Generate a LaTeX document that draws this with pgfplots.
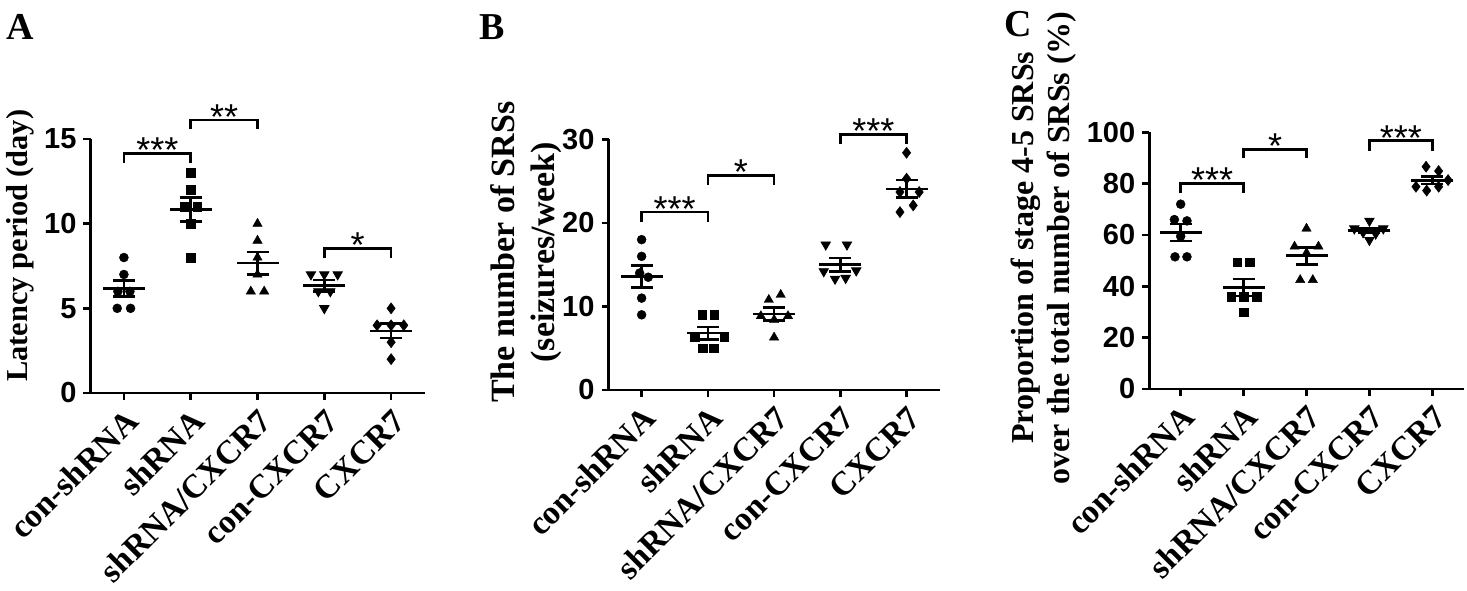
\documentclass[border=0pt]{standalone}
\usepackage{fontspec}
\setmainfont{Liberation Serif}
\newfontfamily\arialfont{Liberation Sans}
\usepackage{pgfplots}
\pgfplotsset{compat=1.18}
\pgfplotsset{
 prism/.style={
   scale only axis, clip=false, enlargelimits=false,
   axis x line=bottom, axis y line=left,
   axis line style={line width=1.3pt,-},
   xmin=-0.5, xmax=4.5, ymin=0,
   xtick={0,1,2,3,4},
   xticklabels={con-shRNA,shRNA,shRNA/CXCR7,con-CXCR7,CXCR7},
   tick align=outside,
   major tick length=3.5pt,
   every tick/.style={black, line width=1.3pt},
   xticklabel style={rotate=45, anchor=east, font=\bfseries\fontsize{16.7}{18}\selectfont, inner sep=1pt, xshift=-1.5pt, yshift=-8.5pt},
   yticklabel style={font=\arialfont\bfseries\fontsize{14.5}{16}\selectfont},
   /pgf/number format/assume math mode=true,
   ylabel style={font=\bfseries\fontsize{16}{18}\selectfont, align=center, anchor=center},
 },
 dots/.style={only marks, black, mark options={fill=black, draw=black, line width=0.2pt}},
 msem/.style={only marks, black, mark=-, mark size=10.5pt, mark options={line width=1.3pt},
   error bars/.cd, y dir=both, y explicit, error bar style={line width=1.3pt},
   error mark options={rotate=90, mark size=5.5pt, line width=1.3pt}},
 brk/.style={black, line width=1.3pt, line join=miter, mark=none},
}
\tikzset{stars/.style={font=\arialfont\fontsize{18}{18}\selectfont, anchor=base, yshift=-4.7pt, inner sep=0pt}}
\begin{document}
\begin{tikzpicture}
\useasboundingbox (0,0) rectangle (733.5pt,295pt);
\node[font=\bfseries\fontsize{19}{19}\selectfont] at (10pt,281.5pt) {A};
\node[font=\bfseries\fontsize{19}{19}\selectfont] at (246pt,281.5pt) {B};
\node[font=\bfseries\fontsize{19}{19}\selectfont] at (509pt,283pt) {C};

% Panel A
\begin{axis}[prism, at={(45.25pt,98.5pt)}, anchor=south west, width=167pt, height=127pt,
  ymax=15, ytick={0,5,10,15},
  ylabel={Latency period (day)},
  ylabel style={at={(axis description cs:-0.211,0.58)}, font=\bfseries\fontsize{15.2}{18}\selectfont}]
\addplot[dots, mark=*, mark size=2.25pt] coordinates {(0,8) (0,7) (-0.09,6) (0.09,6) (-0.1,5) (0.1,5)};
\addplot[dots, mark=square*, mark size=2.1pt] coordinates {(1,13) (1,12) (0.9,11) (1.1,11) (1,10) (1,8)};
\addplot[dots, mark=triangle*, mark size=2.7pt] coordinates {(2,10) (2,9) (2,8) (2,7) (1.9,6) (2.1,6)};
\addplot[dots, mark=triangle*, mark size=2.7pt, mark options={rotate=180}] coordinates {(2.8,7) (3,7) (3.2,7) (2.91,6) (3.09,6) (3,5)};
\addplot[dots, mark=diamond*, mark size=2.8pt] coordinates {(4,5) (3.79,4) (4,4) (4.19,4) (4,3) (4,2)};
\addplot[msem] coordinates {(0,6.167) +- (0,0.477) (1,10.833) +- (0,0.703) (2,7.667) +- (0,0.667) (3,6.333) +- (0,0.333) (4,3.667) +- (0,0.422)};
\addplot[brk] coordinates {(0,13.56) (0,14.15) (1,14.15) (1,13.56)};
\addplot[brk] coordinates {(1,15.57) (1,16.12) (2,16.12) (2,15.57)};
\addplot[brk] coordinates {(3,7.95) (3,8.55) (4,8.55) (4,7.95)};
\node[stars] at (axis cs:0.5,14.15) {***};
\node[stars] at (axis cs:1.5,16.12) {**};
\node[stars] at (axis cs:3.5,8.55) {*};
\end{axis}

% Panel B
\begin{axis}[prism, at={(304.25pt,100pt)}, anchor=south west, width=165.6pt, height=125.3pt,
  ymax=30, ytick={0,10,20,30},
  ylabel={The number of SRSs\\(seizures/week)},
  ylabel style={at={(axis description cs:-0.25,0.55)}, font=\bfseries\fontsize{17}{20}\selectfont}]
\addplot[dots, mark=*, mark size=2.25pt] coordinates {(0,18) (0,16) (-0.03,14) (0.1,13.5) (0,11) (0,9)};
\addplot[dots, mark=square*, mark size=2.1pt] coordinates {(0.91,9) (1.1,9) (0.8,6.4) (1.25,6.4) (0.92,5) (1.09,5)};
\addplot[dots, mark=triangle*, mark size=2.7pt] coordinates {(2.1,11.4) (1.92,10.8) (1.8,8.85) (2.21,8.85) (2,8.4) (2,6.3)};
\addplot[dots, mark=triangle*, mark size=2.7pt, mark options={rotate=180}] coordinates {(2.78,17.4) (3.1,17.4) (2.75,14.2) (3.24,14.3) (2.92,13.3) (3.08,13.4)};
\addplot[dots, mark=diamond*, mark size=2.8pt] coordinates {(4,28.4) (4,25.3) (3.9,23.7) (4.19,23.7) (4.1,22.1) (3.9,21.3)};
\addplot[msem] coordinates {(0,13.58) +- (0,1.33) (1,6.8) +- (0,0.72) (2,9.1) +- (0,0.745) (3,15.0) +- (0,0.8) (4,24.08) +- (0,1.05)};
\addplot[brk] coordinates {(0,20.1) (0,21.3) (1,21.3) (1,20.1)};
\addplot[brk] coordinates {(1,24.5) (1,25.7) (2,25.7) (2,24.5)};
\addplot[brk] coordinates {(3,29.4) (3,30.6) (4,30.6) (4,29.4)};
\node[stars] at (axis cs:0.5,21.3) {***};
\node[stars] at (axis cs:1.5,25.7) {*};
\node[stars] at (axis cs:3.5,30.6) {***};
\end{axis}

% Panel C
\begin{axis}[prism, at={(574.6pt,100.5pt)}, anchor=south west, width=157.3pt, height=128.35pt,
  ymax=100, ytick={0,20,40,60,80,100},
  ylabel={Proportion of stage 4-5 SRSs\\over the total number of SRSs (\%)},
  ylabel style={at={(axis description cs:-0.336,0.55)}}]
\addplot[dots, mark=*, mark size=2.25pt] coordinates {(0,72) (-0.1,66) (0.1,65.5) (0,59.5) (-0.09,51.5) (0.1,51.5)};
\addplot[dots, mark=square*, mark size=2.1pt] coordinates {(0.9,49.5) (1.1,49.5) (0.8,36) (1,36) (1.21,36) (1,30)};
\addplot[dots, mark=triangle*, mark size=2.7pt] coordinates {(2,62.5) (1.81,55.5) (2.19,55.5) (2,53) (1.9,42.5) (2.1,42.5)};
\addplot[dots, mark=triangle*, mark size=2.7pt, mark options={rotate=180}] coordinates {(3,65.5) (2.76,62.5) (3.22,62.5) (2.9,61) (3.1,60.5) (3,58)};
\addplot[dots, mark=diamond*, mark size=2.8pt] coordinates {(3.9,86.6) (4.1,84.9) (4.25,81.4) (3.74,78.8) (4.1,78.8) (3.91,77.3)};
\addplot[msem] coordinates {(0,61) +- (0,3.3) (1,39.5) +- (0,3.3) (2,51.9) +- (0,3.3) (3,61.7) +- (0,1.0) (4,81.3) +- (0,1.45)};
\addplot[brk] coordinates {(0,76.2) (0,80.1) (1,80.1) (1,76.2)};
\addplot[brk] coordinates {(1,89.9) (1,93.4) (2,93.4) (2,89.9)};
\addplot[brk] coordinates {(3,92.8) (3,96.7) (4,96.7) (4,92.8)};
\node[stars] at (axis cs:0.5,80.1) {***};
\node[stars] at (axis cs:1.5,93.4) {*};
\node[stars] at (axis cs:3.5,96.7) {***};
\end{axis}
\end{tikzpicture}
\end{document}
